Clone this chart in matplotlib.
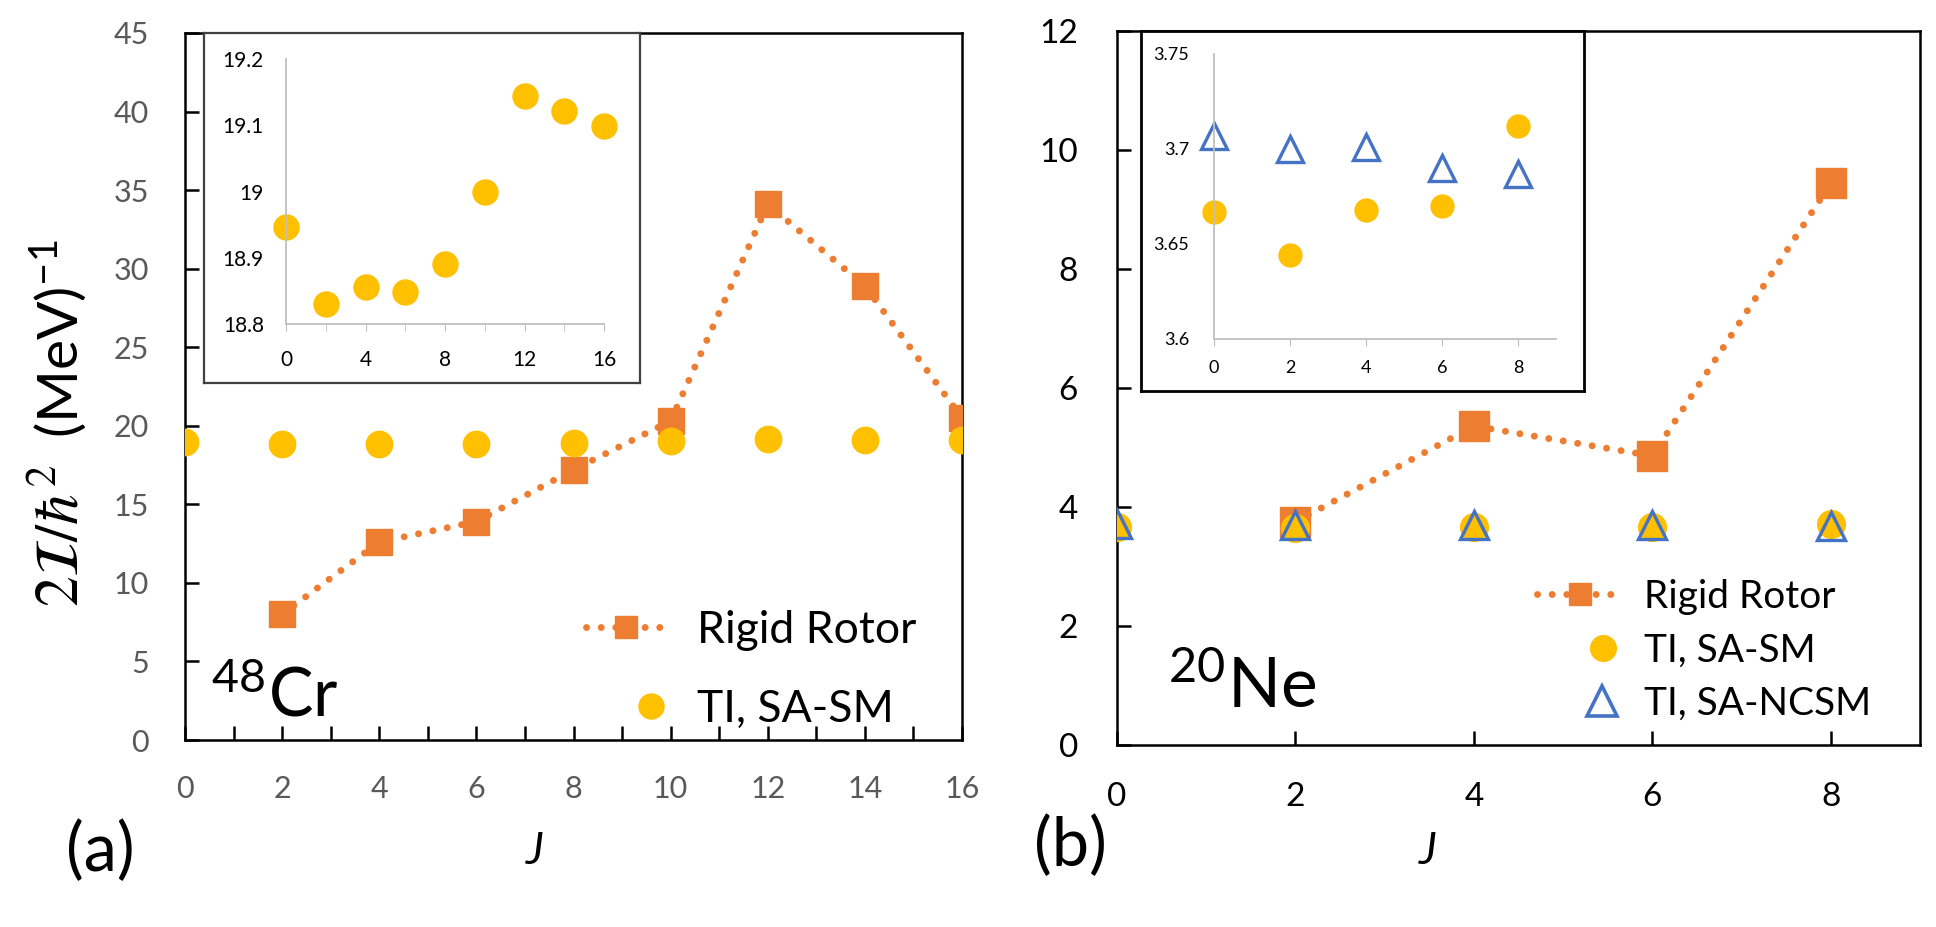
import matplotlib
matplotlib.use("Agg")
import matplotlib.pyplot as plt
from matplotlib.lines import Line2D
from matplotlib.legend_handler import HandlerLine2D
from matplotlib.ticker import MultipleLocator

plt.rcParams['font.family'] = ['Lato', 'DejaVu Sans']
plt.rcParams['mathtext.fontset'] = 'stix'

# ---- data: 48Cr ----
J_cr = [0, 2, 4, 6, 8, 10, 12, 14, 16]
ti_cr = [18.947, 18.830, 18.856, 18.848, 18.890, 19.000, 19.144, 19.121, 19.099]
J_cr_rigid = [2, 4, 6, 8, 10, 12, 14, 16]
rigid_cr = [8.0, 12.6, 13.9, 17.2, 20.3, 34.1, 28.9, 20.5]

# ---- data: 20Ne ----
J_ne = [0, 2, 4, 6, 8]
ti_ne = [3.667, 3.644, 3.668, 3.670, 3.712]
ncsm_ne = [3.707, 3.700, 3.701, 3.690, 3.687]
J_ne_rigid = [2, 4, 6, 8]
rigid_ne = [3.75, 5.36, 4.86, 9.44]

ORANGE = '#ED7D31'
YELLOW = '#FFC000'
BLUE = '#4472C4'
GREY = '#595959'

W, H = 1936, 927
fig = plt.figure(figsize=(W / 100, H / 100), dpi=100)


def box(x0, y0, x1, y1):
    # pixel box (top-left origin) -> figure fraction rect
    return [x0 / W, 1 - y1 / H, (x1 - x0) / W, (y1 - y0) / H]


class ShiftedMarker(HandlerLine2D):
    # excel puts the lone marker a bit right of the line centre
    def __init__(self, shift, **kw):
        super().__init__(**kw)
        self.shift = shift

    def create_artists(self, legend, orig_handle, xdescent, ydescent, width, height,
                       fontsize, trans):
        return super().create_artists(legend, orig_handle, xdescent - self.shift,
                                      ydescent, width, height, fontsize, trans)


dot = (0, (0.01, 2.1))

# ================= panel (a) =================
ax1 = fig.add_axes(box(185, 33, 962, 740))
ax1.plot(J_cr_rigid, rigid_cr, color=ORANGE, lw=5, ls=dot, dash_capstyle='round',
         marker='s', ms=19, mec=ORANGE, mfc=ORANGE, zorder=3)
ax1.plot(J_cr, ti_cr, ls='none', marker='o', ms=19, color=YELLOW, zorder=4)
ax1.set_xlim(0, 16)
ax1.set_ylim(0, 45)
ax1.xaxis.set_major_locator(MultipleLocator(2))
ax1.xaxis.set_minor_locator(MultipleLocator(1))
ax1.yaxis.set_major_locator(MultipleLocator(5))
ax1.tick_params(axis='both', which='both', direction='in', length=10, width=1.8,
                labelsize=22, labelcolor=GREY)
ax1.tick_params(axis='x', pad=25)
ax1.tick_params(axis='y', pad=26)
for s in ax1.spines.values():
    s.set_linewidth(1.8)
ax1.text(0.032, 0.035, r'$^{\mathregular{48}}$Cr', transform=ax1.transAxes, fontsize=48)

h_rigid = Line2D([], [], color=ORANGE, lw=5, ls=dot, dash_capstyle='round',
                 marker='s', ms=16.5, mfc=ORANGE, mec=ORANGE)
h_ti = Line2D([], [], ls='none', marker='o', ms=18, color=YELLOW)
ax1.legend([h_rigid, h_ti], ['Rigid Rotor', 'TI, SA-SM'], frameon=False,
           fontsize=32, loc='upper left', bbox_to_anchor=(586 / W, 1 - 610 / H),
           bbox_transform=fig.transFigure, borderpad=0, borderaxespad=0,
           handlelength=1.8, handletextpad=0.7, labelspacing=0.85,
           handler_map={h_ti: ShiftedMarker(18)})

# inset frame + inset (a)
fr1 = fig.add_axes(box(204, 33, 640, 383))
fr1.set_xticks([])
fr1.set_yticks([])
for s in fr1.spines.values():
    s.set_color('#404040')
    s.set_linewidth(1.6)

in1 = fig.add_axes(box(286, 59, 604, 324))
in1.patch.set_alpha(0)
in1.plot(J_cr, ti_cr, ls='none', marker='o', ms=18, color=YELLOW, clip_on=False)
in1.set_xlim(0, 16)
in1.set_ylim(18.8, 19.2)
in1.set_xticks([0, 4, 8, 12, 16])
in1.xaxis.set_minor_locator(MultipleLocator(2))
in1.set_yticks([18.8, 18.9, 19.0, 19.1, 19.2])
in1.set_yticklabels(['18.8', '18.9', '19', '19.1', '19.2'])
in1.spines['top'].set_visible(False)
in1.spines['right'].set_visible(False)
for s in ['left', 'bottom']:
    in1.spines[s].set_color('#BFBFBF')
    in1.spines[s].set_linewidth(1.3)
in1.tick_params(axis='x', which='both', direction='out', length=5, color='#BFBFBF',
                labelsize=15, pad=14)
in1.tick_params(axis='y', length=0, labelsize=15, pad=16)

# ================= panel (b) =================
ax2 = fig.add_axes(box(1117, 31, 1920, 745))
ax2.plot(J_ne_rigid, rigid_ne, color=ORANGE, lw=5, ls=dot, dash_capstyle='round',
         marker='s', ms=21, mec=ORANGE, mfc=ORANGE, zorder=3)
ax2.plot(J_ne, ti_ne, ls='none', marker='o', ms=20, color=YELLOW, zorder=4)
ax2.plot(J_ne, ncsm_ne, ls='none', marker='^', ms=20, mfc='none', mec=BLUE, mew=2.4,
         zorder=5)
ax2.set_xlim(0, 9)
ax2.set_ylim(0, 12)
ax2.set_xticks([0, 2, 4, 6, 8])
ax2.yaxis.set_major_locator(MultipleLocator(2))
ax2.tick_params(axis='both', direction='in', length=10, width=1.8, labelsize=24)
ax2.tick_params(axis='x', pad=27)
ax2.tick_params(axis='y', pad=28)
for s in ax2.spines.values():
    s.set_linewidth(1.8)
ax2.text(0.062, 0.052, r'$^{\mathregular{20}}$Ne', transform=ax2.transAxes, fontsize=50)

h_rigid2 = Line2D([], [], color=ORANGE, lw=5, ls=dot, dash_capstyle='round',
                  marker='s', ms=16.5, mfc=ORANGE, mec=ORANGE)
h_ti2 = Line2D([], [], ls='none', marker='o', ms=18.5, color=YELLOW)
h_ncsm = Line2D([], [], ls='none', marker='^', ms=21, mfc='none', mec=BLUE, mew=2.6)
ax2.legend([h_rigid2, h_ti2, h_ncsm], ['Rigid Rotor', 'TI, SA-SM', 'TI, SA-NCSM'],
           frameon=False, fontsize=28, loc='upper left',
           bbox_to_anchor=(1537 / W, 1 - 579 / H), bbox_transform=fig.transFigure,
           borderpad=0, borderaxespad=0, handlelength=2.2, handletextpad=0.55,
           labelspacing=0.45,
           handler_map={h_ti2: ShiftedMarker(17), h_ncsm: ShiftedMarker(16)})

# inset frame + inset (b)
fr2 = fig.add_axes(box(1141, 31, 1584, 391))
fr2.set_xticks([])
fr2.set_yticks([])
for s in fr2.spines.values():
    s.set_color('black')
    s.set_linewidth(2)

in2 = fig.add_axes(box(1214, 54, 1556, 339))
in2.patch.set_alpha(0)
in2.plot(J_ne, ti_ne, ls='none', marker='o', ms=16.5, color=YELLOW, clip_on=False)
in2.plot(J_ne, ncsm_ne, ls='none', marker='^', ms=19, mfc='none', mec=BLUE, mew=2.4,
         clip_on=False)
in2.set_xlim(0, 9)
in2.set_ylim(3.6, 3.75)
in2.set_xticks([0, 2, 4, 6, 8])
in2.set_yticks([3.6, 3.65, 3.7, 3.75])
in2.set_yticklabels(['3.6', '3.65', '3.7', '3.75'])
in2.spines['top'].set_visible(False)
in2.spines['right'].set_visible(False)
for s in ['left', 'bottom']:
    in2.spines[s].set_color('#BFBFBF')
    in2.spines[s].set_linewidth(1.3)
in2.tick_params(axis='x', direction='out', length=5, color='#BFBFBF', labelsize=13, pad=10)
in2.tick_params(axis='y', length=0, labelsize=13, pad=18)

# ---- labels ----
# y label in two pieces: math part and the unit, sharing one baseline
fig.text(78 / W, 1 - 536 / H, r'$2\mathcal{I}/\hbar^{2}$', rotation=90,
         rotation_mode='anchor', ha='center', va='baseline', fontsize=44)
fig.text(78 / W, 1 - 339 / H, r'(MeV)$^{\mathregular{-1}}$', rotation=90,
         rotation_mode='anchor', ha='center', va='baseline', fontsize=41)
fig.text(535 / W, 1 - 852 / H, 'J', style='italic', ha='center', va='center', fontsize=32)
fig.text(1428 / W, 1 - 852 / H, 'J', style='italic', ha='center', va='center', fontsize=32)
fig.text(100 / W, 1 - 852 / H, '(a)', ha='center', va='center', fontsize=48)
fig.text(1070 / W, 1 - 847 / H, '(b)', ha='center', va='center', fontsize=48)

fig.savefig('out.png', dpi=100)
